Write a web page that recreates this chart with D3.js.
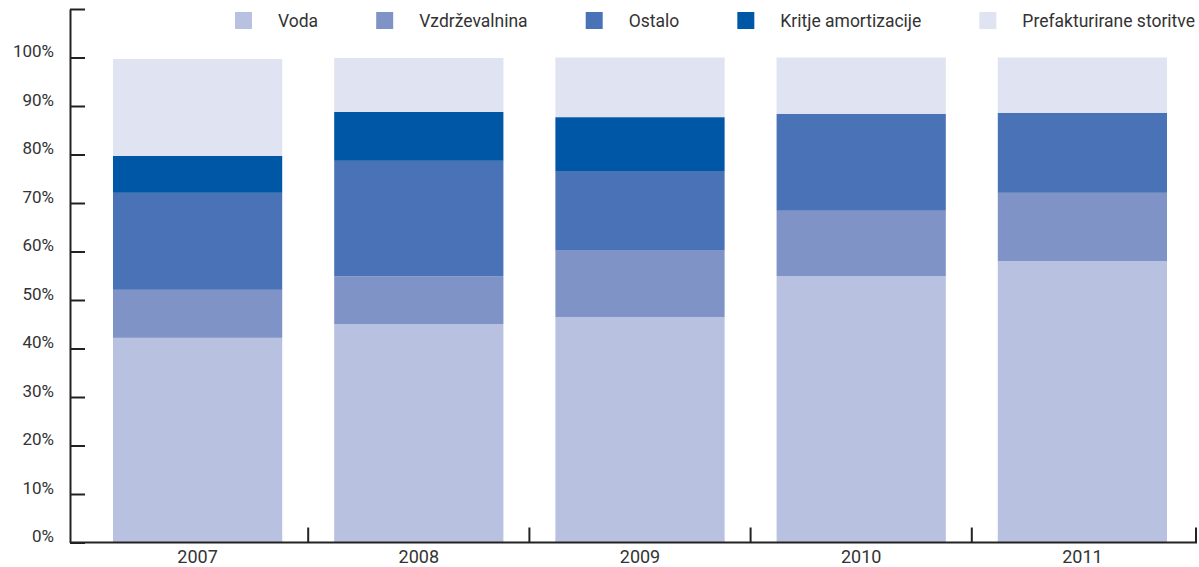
<!DOCTYPE html>
<html>
  <head>
    <meta charset="UTF-8" />
    <title>Struktura prihodkov</title>
    <script src="https://d3js.org/d3.v7.min.js"></script>
    <style>
      body {
        margin: 0;
        background-color: #fff;
      }
      svg text {
        font-family: Roboto, "DejaVu Sans", sans-serif;
        fill: #333;
      }
      .axis path,
      .axis line {
        stroke: #222;
        stroke-width: 2;
      }
    </style>
  </head>
  <body>
    <div id="chart"></div>

    <script>
      const years = ["2007", "2008", "2009", "2010", "2011"];
      const series = [
        "Voda",
        "Vzdrževalnina",
        "Ostalo",
        "Kritje amortizacije",
        "Prefakturirane storitve",
      ];
      const colors = ["#b8c1e0", "#7f93c7", "#4a72b6", "#0057a5", "#e0e3f2"];

      // delezi v % (po letih)
      const voda = [42.2, 45.0, 46.5, 54.9, 58.0];
      const vzdrzevalnina = [9.9, 9.9, 13.8, 13.5, 14.1];
      const ostalo = [20.0, 23.8, 16.3, 20.0, 16.5];
      const kritje = [7.6, 10.1, 11.1, 0, 0];
      const prefakturirane = [20.0, 11.1, 12.3, 11.6, 11.4];

      const yTicks = [0, 10, 20, 30, 40, 50, 60, 70, 80, 90, 100, 110];

      const width = 1199;
      const height = 567;

      const columns = [voda, vzdrzevalnina, ostalo, kritje, prefakturirane];
      const data = years.map((year, i) => {
        const row = { year: year };
        series.forEach((s, k) => (row[s] = columns[k][i]));
        return row;
      });

      const svg = d3
        .select("#chart")
        .append("svg")
        .attr("width", width)
        .attr("height", height);

      const x = d3
        .scaleBand()
        .domain(years)
        .range([87, 1193])
        .paddingInner(0.235)
        .paddingOuter(0.1175);

      const y = d3.scaleLinear().domain([0, 110]).range([542.5, 9]);

      const color = d3.scaleOrdinal().domain(series).range(colors);

      const stacked = d3.stack().keys(series)(data);

      // stolpci
      svg
        .append("g")
        .selectAll("g")
        .data(stacked)
        .enter()
        .append("g")
        .attr("fill", (d) => color(d.key))
        .selectAll("rect")
        .data((d) => d)
        .enter()
        .append("rect")
        .attr("x", (d) => x(d.data.year))
        .attr("width", x.bandwidth())
        .attr("y", (d) => y(d[1]))
        .attr("height", (d) => y(d[0]) - y(d[1]));

      // os y
      const yAxis = svg
        .append("g")
        .attr("class", "axis")
        .attr("transform", "translate(70,0)")
        .call(
          d3
            .axisLeft(y)
            .tickValues(yTicks)
            .tickSizeInner(-15)
            .tickSizeOuter(0)
            .tickPadding(16)
            .tickFormat((d) => (d === 110 ? "" : d + "%"))
        );
      yAxis
        .selectAll("text")
        .attr("dy", "-0.05em")
        .style("font-size", "17px");

      // os x
      const xAxis = svg.append("g").attr("class", "axis");
      xAxis
        .append("line")
        .attr("x1", 70)
        .attr("x2", 1197)
        .attr("y1", y(0))
        .attr("y2", y(0));

      const gap = (x.step() * x.paddingInner()) / 2;
      const sepX = (d, i) =>
        i === years.length - 1 ? 1196 : x(d) + x.bandwidth() + gap;
      xAxis
        .selectAll(".sep")
        .data(years)
        .enter()
        .append("line")
        .attr("class", "sep")
        .attr("x1", sepX)
        .attr("x2", sepX)
        .attr("y1", y(0))
        .attr("y2", y(0) - 15);

      xAxis
        .selectAll("text")
        .data(years)
        .enter()
        .append("text")
        .attr("x", (d) => x(d) + x.bandwidth() / 2)
        .attr("y", 563)
        .attr("text-anchor", "middle")
        .style("font-size", "18px")
        .text((d) => d);

      // legenda: od x=235 do x=1195, razmiki enakomerni
      const legend = svg.append("g");
      const items = series.map((s) => {
        const g = legend.append("g");
        g.append("rect")
          .attr("y", 12)
          .attr("width", 17)
          .attr("height", 17)
          .attr("fill", color(s));
        const t = g
          .append("text")
          .attr("x", 43)
          .attr("y", 27)
          .style("font-size", "17.5px")
          .text(s);
        return { g: g, w: 43 + t.node().getComputedTextLength() };
      });
      const total = d3.sum(items, (d) => d.w);
      const space = (1195 - 235 - total) / (items.length - 1);
      let lx = 235;
      items.forEach((it) => {
        it.g.attr("transform", "translate(" + lx + ",0)");
        lx += it.w + space;
      });
    </script>
  </body>
</html>
